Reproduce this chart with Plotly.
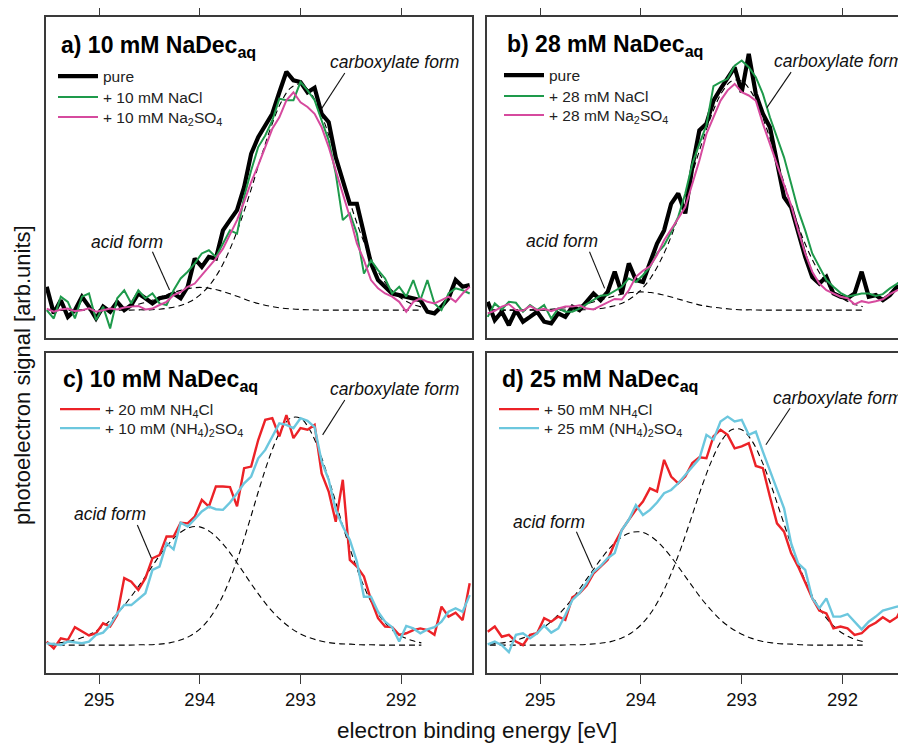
import plotly.graph_objects as go

# ---------------- data ----------------
energy = [295.52, 295.45, 295.38, 295.31, 295.24, 295.17, 295.10, 295.03, 294.96, 294.89,
          294.82, 294.75, 294.68, 294.61, 294.54, 294.47, 294.40, 294.33, 294.26, 294.19,
          294.12, 294.05, 293.98, 293.91, 293.84, 293.77, 293.70, 293.63, 293.56, 293.49,
          293.42, 293.35, 293.28, 293.21, 293.14, 293.07, 293.00, 292.93, 292.86, 292.79,
          292.72, 292.65, 292.58, 292.51, 292.44, 292.37, 292.30, 292.23, 292.16, 292.09,
          292.02, 291.95, 291.88, 291.81, 291.74, 291.67, 291.60, 291.53, 291.46, 291.39, 291.32]

fit_energy = [295.5, 295.4, 295.3, 295.2, 295.1, 295.0, 294.9, 294.8, 294.7, 294.6,
              294.5, 294.4, 294.3, 294.2, 294.1, 294.0, 293.9, 293.8, 293.7, 293.6,
              293.5, 293.4, 293.3, 293.2, 293.1, 293.0, 292.9, 292.8, 292.7, 292.6,
              292.5, 292.4, 292.3, 292.2, 292.1, 292.0, 291.9, 291.8]

# panel a) 10 mM NaDec
pure_a = [15.9, 7.6, 11.7, 6.5, 8.6, 12.8, 9.7, 6.0, 9.7, 8.1, 11.2, 8.6, 10.2, 13.8, 12.3, 10.7,
          12.3, 12.8, 13.8, 12.3, 15.9, 24.7, 22.1, 25.2, 24.7, 33.5, 36.7, 39.8, 47.0, 57.4,
          62.6, 66.3, 69.9, 76.6, 83.0, 80.3, 79.8, 76.6, 78.0, 69.9, 67.3, 56.3, 49.1, 41.8,
          41.8, 32.5, 23.2, 18.0, 15.9, 13.8, 13.3, 12.8, 12.3, 11.7, 8.1, 7.6, 9.7, 12.3,
          18.0, 15.9, 16.4]
nacl_a = [8.6, 6.0, 12.8, 11.2, 6.0, 12.8, 13.8, 5.5, 9.7, 2.9, 12.3, 14.8, 10.7, 14.8, 12.3,
          13.8, 10.7, 10.2, 14.8, 18.5, 20.6, 23.2, 26.3, 27.3, 25.2, 29.4, 33.5, 32.5, 43.9,
          52.2, 59.5, 63.1, 67.8, 74.6, 74.1, 74.1, 79.8, 77.2, 74.1, 67.8, 61.6, 51.2, 36.7,
          38.8, 32.5, 20.0, 24.1, 21.1, 18.5, 13.8, 15.9, 12.8, 18.0, 11.7, 18.0, 10.7, 8.6,
          13.8, 15.4, 14.8, 13.8]
na2so4_a = [9.1, 8.1, 8.8, 9.1, 8.3, 8.6, 9.2, 8.1, 8.6, 9.1, 8.8, 9.4, 9.7, 9.9, 8.8, 9.1,
            10.2, 11.2, 13.3, 14.2, 15.9, 16.9, 19.5, 22.1, 24.7, 27.8, 32.0, 36.7, 42.4,
            48.6, 53.8, 59.5, 65.2, 68.8, 74.1, 76.6, 73.5, 72.0, 69.9, 65.7, 59.5, 52.2,
            45.0, 37.7, 29.4, 24.2, 18.0, 15.4, 13.8, 12.8, 11.2, 8.1, 11.2, 12.3, 11.2, 10.7,
            11.7, 12.8, 11.2, 13.8, 15.9]
acid_a = [8.6, 8.6, 8.6, 8.6, 8.7, 8.8, 9.0, 9.3, 9.8, 10.5, 11.4, 12.6, 13.7, 14.7, 15.4,
          15.7, 15.4, 14.7, 13.7, 12.6, 11.4, 10.5, 9.8, 9.3, 9.0, 8.8, 8.7, 8.6, 8.6, 8.6,
          8.6, 8.6, 8.6, 8.6, 8.6, 8.6, 8.6, 8.6]
carb_a = [8.6, 8.6, 8.6, 8.6, 8.6, 8.6, 8.6, 8.6, 8.6, 8.7, 8.7, 8.9, 9.3, 10.0, 11.2, 13.3,
          16.5, 21.2, 27.7, 35.8, 45.3, 55.5, 65.1, 73.0, 77.9, 79.2, 76.4, 70.2, 61.4, 51.4,
          41.4, 32.3, 24.8, 19.1, 15.0, 12.3, 10.6, 9.6]

# panel b) 28 mM NaDec
pure_b = [11.2, 5.5, 8.1, 3.9, 8.6, 5.0, 6.5, 8.1, 5.0, 4.5, 7.6, 6.5, 9.7, 8.6, 11.2, 13.8,
          11.7, 14.3, 20.6, 13.8, 23.2, 18.0, 17.4, 23.2, 29.4, 33.5, 41.8, 45.0, 38.8, 53.3,
          64.7, 66.8, 74.0, 77.7, 81.3, 84.4, 76.6, 88.6, 76.1, 69.9, 65.7, 55.3, 43.9, 40.7,
          32.5, 25.2, 18.9, 16.9, 19.0, 13.8, 12.8, 12.3, 13.8, 20.6, 12.8, 13.3, 11.7, 13.3,
          15.9, 14.8, 16.9]
nacl_b = [6.5, 10.7, 8.8, 11.2, 10.9, 8.1, 10.2, 8.6, 10.2, 6.0, 9.1, 8.1, 8.1, 9.1, 10.5,
          11.7, 13.1, 13.3, 14.6, 15.9, 18.5, 17.4, 19.5, 22.1, 26.3, 28.8, 33.0, 37.7, 45.0,
          54.3, 60.5, 66.3, 78.5, 79.8, 80.8, 84.9, 86.5, 84.4, 81.3, 76.1, 68.8, 62.6, 56.3,
          48.1, 39.8, 33.5, 26.3, 22.1, 18.0, 15.9, 14.0, 12.8, 13.3, 13.8, 13.8, 13.0, 13.6,
          15.4, 16.8, 18.5, 19.0]
na2so4_b = [7.6, 8.4, 9.7, 10.5, 8.6, 8.4, 9.9, 8.6, 9.0, 8.3, 9.1, 9.7, 9.7, 10.1, 9.1, 8.8,
            9.9, 10.9, 12.1, 11.9, 14.8, 19.0, 20.9, 22.3, 25.8, 30.4, 33.7, 37.2, 40.8,
            48.1, 55.3, 63.6, 68.8, 74.0, 77.2, 79.2, 76.6, 75.6, 74.0, 66.8, 60.5, 54.3,
            48.1, 41.3, 33.5, 26.3, 20.6, 16.9, 14.8, 13.8, 12.8, 12.3, 10.4, 11.4, 10.9,
            11.4, 12.0, 13.6, 14.8, 15.9, 16.4]
acid_b = [8.6, 8.6, 8.6, 8.6, 8.7, 8.7, 8.9, 9.2, 9.6, 10.1, 10.9, 11.8, 12.7, 13.5, 14.1,
          14.3, 14.1, 13.5, 12.7, 11.8, 10.9, 10.1, 9.6, 9.2, 8.9, 8.7, 8.7, 8.6, 8.6, 8.6,
          8.6, 8.6, 8.6, 8.6, 8.6, 8.6, 8.6, 8.6]
carb_b = [8.6, 8.6, 8.6, 8.6, 8.6, 8.6, 8.6, 8.6, 8.6, 8.7, 8.8, 9.1, 9.7, 10.6, 12.3, 14.9,
          18.8, 24.4, 31.6, 40.4, 50.3, 60.3, 69.4, 76.4, 80.1, 80.1, 76.4, 69.4, 60.3, 50.3,
          40.4, 31.6, 24.4, 18.8, 14.9, 12.3, 10.6, 9.7]

# panel c) 10 mM NaDec + ammonium salts
nh4cl_c = [9.8, 7.7, 10.8, 10.3, 14.3, 12.9, 11.7, 12.4, 15.5, 14.5, 18.1, 29.6, 28.5, 25.9,
           29.6, 35.8, 36.8, 42.6, 42.6, 46.9, 46.7, 48.8, 54.0, 51.9, 58.2, 58.2, 58.0, 52.0,
           63.9, 64.4, 72.7, 79.0, 79.5, 73.8, 80.5, 73.3, 76.4, 75.9, 77.4, 62.3, 56.6, 47.2,
           60.3, 35.3, 33.2, 30.1, 22.8, 17.1, 14.5, 14.3, 11.9, 12.4, 13.4, 13.9, 13.4, 11.9,
           20.7, 17.6, 18.8, 16.5, 28.0]
nh42so4_c = [9.3, 8.9, 8.7, 9.8, 9.5, 9.3, 9.8, 11.9, 12.6, 15.0, 18.6, 21.2, 21.2, 23.0, 24.9,
             32.2, 33.2, 40.5, 38.6, 46.9, 45.7, 48.0, 50.4, 51.9, 51.1, 50.9, 53.2, 56.1,
             59.2, 61.3, 67.0, 69.6, 73.8, 77.9, 77.4, 76.4, 79.5, 78.7, 76.7, 66.0, 60.3,
             50.9, 45.7, 41.5, 34.8, 23.8, 23.8, 19.1, 16.0, 14.3, 9.8, 14.7, 13.9, 12.4, 13.6,
             14.3, 16.0, 19.1, 20.2, 19.1, 24.3]
acid_c = [9.1, 9.4, 9.9, 10.7, 11.9, 13.7, 16.1, 19.2, 23.1, 27.4, 32.0, 36.6, 40.6, 43.7,
          45.4, 45.6, 44.1, 41.3, 37.5, 33.0, 28.3, 23.9, 19.9, 16.7, 14.1, 12.2, 10.9, 10.0,
          9.4, 9.1, 9.0, 8.8, 8.8, 8.7, 8.7, 8.7, 8.7, 8.7]
carb_c = [8.7, 8.7, 8.7, 8.7, 8.7, 8.7, 8.7, 8.7, 8.7, 8.8, 8.8, 9.0, 9.4, 10.2, 11.5, 13.7,
          17.2, 22.3, 29.3, 38.0, 48.0, 58.5, 68.0, 75.4, 79.5, 79.5, 75.4, 68.0, 58.5, 48.0,
          38.0, 29.3, 22.3, 17.2, 13.7, 11.5, 10.2, 9.4]

# panel d) 25 mM NaDec + ammonium salts
nh4cl_d = [12.9, 14.5, 11.3, 11.9, 9.8, 8.7, 11.9, 12.4, 17.1, 16.0, 17.6, 16.6, 23.6, 24.9,
           27.2, 31.1, 33.2, 35.3, 40.5, 44.6, 47.8, 50.9, 53.5, 57.6, 56.6, 66.5, 61.3, 59.2,
           61.3, 65.5, 67.3, 67.0, 73.8, 75.9, 74.3, 70.1, 70.7, 71.7, 64.6, 63.9, 55.0, 46.7,
           44.1, 37.4, 33.2, 28.0, 23.3, 19.5, 18.6, 13.9, 14.5, 13.9, 11.9, 12.4, 14.5, 15.7,
           17.4, 16.0, 17.4, 21.7, 22.3]
nh42so4_d = [8.9, 9.8, 8.7, 6.5, 11.9, 12.4, 10.8, 12.4, 14.8, 12.6, 13.9, 18.1, 22.8, 24.9,
             28.0, 31.6, 33.4, 35.8, 37.4, 44.6, 47.8, 52.4, 49.3, 50.9, 53.2, 56.1, 57.1,
             59.2, 61.8, 64.4, 66.9, 74.3, 72.8, 78.5, 80.0, 78.5, 79.0, 74.3, 75.3, 69.1,
             63.4, 57.6, 51.4, 40.5, 34.2, 32.2, 23.3, 20.2, 23.3, 17.6, 17.6, 18.4, 16.0,
             13.6, 16.0, 17.6, 19.5, 20.2, 20.7, 21.0, 21.2]
acid_d = [9.0, 9.3, 9.8, 10.6, 11.8, 13.5, 15.8, 18.8, 22.4, 26.6, 31.0, 35.4, 39.3, 42.2,
          43.8, 44.0, 42.6, 39.9, 36.2, 31.9, 27.5, 23.2, 19.5, 16.3, 13.9, 12.1, 10.8, 9.9,
          9.4, 9.1, 9.0, 8.8, 8.7, 8.7, 8.7, 8.7, 8.7, 8.7]
carb_d = [8.7, 8.7, 8.7, 8.7, 8.7, 8.7, 8.7, 8.7, 8.8, 8.8, 9.0, 9.3, 9.8, 10.8, 12.4, 15.0,
          18.8, 24.1, 31.0, 39.2, 48.4, 57.8, 66.1, 72.5, 75.9, 75.9, 72.5, 66.1, 57.8, 48.4,
          39.2, 31.0, 24.1, 18.8, 15.0, 12.4, 10.8, 9.8]

panel_titles = ["a) 10 mM NaDec", "b) 28 mM NaDec", "c) 10 mM NaDec", "d) 25 mM NaDec"]
tick_vals = [295, 294, 293, 292]
tick_text = ["295", "294", "293", "292"]

# ---------------- styling ----------------
VW, VH = 906, 743          # browser window
OFF = 8                    # default page margin of the html body
W, H = VW - OFF, VH - OFF  # figure size so that it ends at the window edge
FONT = "Liberation Sans, Arial, Helvetica, sans-serif"
C_PURE, C_NACL, C_NA2SO4 = "#000000", "#1e9a4b", "#d64a9e"
C_NH4CL, C_NH42SO4 = "#ec2227", "#6cc7de"
FRAME = "#3a3a3a"

def fx(p):
    return (p - OFF) / W

def fy(p):
    return 1 - (p - OFF) / H

# panel boxes in window pixels: (left, right, top, bottom)
boxes = {
    1: (45.7, 471.7, 17.3, 337.7),
    2: (486.7, 906.0, 17.3, 337.7),
    3: (45.7, 471.7, 352.5, 673.0),
    4: (486.7, 906.0, 352.5, 673.0),
}
xranges = {1: [295.53, 291.30], 2: [295.53, 291.37], 3: [295.53, 291.30], 4: [295.53, 291.37]}

fig = go.Figure()

def ax_names(k):
    return ("x" if k == 1 else f"x{k}"), ("y" if k == 1 else f"y{k}")

def add_fit(k, xs, ys):
    xa, ya = ax_names(k)
    fig.add_trace(go.Scatter(x=xs, y=ys, mode="lines",
                             line=dict(color="black", width=1.1, dash="6px,4px", shape="spline"),
                             xaxis=xa, yaxis=ya, showlegend=False, hoverinfo="skip"))

legend_rows = []  # (legend id, left px, row centre px)

def add_data(k, ys, name, color, width, lx, ly):
    xa, ya = ax_names(k)
    lid = "legend" if not legend_rows else f"legend{len(legend_rows) + 1}"
    legend_rows.append((lid, lx, ly))
    fig.add_trace(go.Scatter(x=energy, y=ys, mode="lines", name=name,
                             line=dict(color=color, width=width),
                             xaxis=xa, yaxis=ya, legend=lid))

# panel a
add_fit(1, fit_energy, acid_a)
add_fit(1, fit_energy, carb_a)
add_data(1, pure_a, "pure", C_PURE, 4.2, 53, 76)
add_data(1, nacl_a, "+ 10 mM NaCl", C_NACL, 2, 53, 97)
add_data(1, na2so4_a, "+ 10 mM Na<sub>2</sub>SO<sub>4</sub>", C_NA2SO4, 2, 53, 117)
# panel b
add_fit(2, fit_energy, acid_b)
add_fit(2, fit_energy, carb_b)
add_data(2, pure_b, "pure", C_PURE, 4.2, 499, 75)
add_data(2, nacl_b, "+ 28 mM NaCl", C_NACL, 2, 499, 96)
add_data(2, na2so4_b, "+ 28 mM Na<sub>2</sub>SO<sub>4</sub>", C_NA2SO4, 2, 499, 115)
# panel c
add_fit(3, fit_energy, acid_c)
add_fit(3, fit_energy, carb_c)
add_data(3, nh4cl_c, "+ 20 mM NH<sub>4</sub>Cl", C_NH4CL, 2.4, 55, 409)
add_data(3, nh42so4_c, "+ 10 mM (NH<sub>4</sub>)<sub>2</sub>SO<sub>4</sub>", C_NH42SO4, 2.4, 55, 428)
# panel d
add_fit(4, fit_energy, acid_d)
add_fit(4, fit_energy, carb_d)
add_data(4, nh4cl_d, "+ 50 mM NH<sub>4</sub>Cl", C_NH4CL, 2.4, 494, 409)
add_data(4, nh42so4_d, "+ 25 mM (NH<sub>4</sub>)<sub>2</sub>SO<sub>4</sub>", C_NH42SO4, 2.4, 494, 428)

layout = dict(width=W, height=H, margin=dict(l=0, r=0, t=0, b=0),
              paper_bgcolor="white", plot_bgcolor="white",
              font=dict(family=FONT, color="#111"), showlegend=True)

for k, (l, r, t, b) in boxes.items():
    xn = "xaxis" if k == 1 else f"xaxis{k}"
    yn = "yaxis" if k == 1 else f"yaxis{k}"
    xa, ya = ax_names(k)
    top = k in (1, 2)
    left = k in (1, 3)
    layout[xn] = dict(domain=[fx(l), min(1.0, fx(r))], range=xranges[k], anchor=ya,
                      side="top" if top else "bottom", showline=True, linecolor=FRAME, linewidth=1.6,
                      mirror=True, ticks="outside", ticklen=8 if top else 9, tickwidth=1.4, tickcolor=FRAME,
                      tickvals=tick_vals, ticktext=tick_text, showticklabels=not top,
                      tickfont=dict(size=18.5, family=FONT, color="#111"),
                      showgrid=False, zeroline=False)
    layout[yn] = dict(domain=[fy(b), fy(t)], range=[0, 100], anchor=xa,
                      showline=True, linecolor=FRAME, linewidth=1.6, mirror=left,
                      showticklabels=False, ticks="", showgrid=False, zeroline=False)

# one single-entry legend per row, so each row sits where the reference has it
for lid, lx, ly in legend_rows:
    layout[lid] = dict(x=fx(lx), y=fy(ly - 16.5), xanchor="left", yanchor="top",
                       bgcolor="rgba(0,0,0,0)", borderwidth=0, tracegroupgap=0,
                       itemwidth=40, font=dict(size=15.5, family=FONT, color="#222"))

annotations = []
shapes = []
title_pos = [(59, 46.5), (505, 45.5), (61, 380.5), (500, 380.5)]
for (tx, ty), title in zip(title_pos, panel_titles):
    annotations.append(dict(xref="paper", yref="paper", x=fx(tx), y=fy(ty), xanchor="left", yanchor="middle",
                            text=f"<b>{title}<sub>aq</sub></b>", showarrow=False,
                            font=dict(size=23, family=FONT, color="#000")))

# labels and leader lines (data coordinates per panel)
carb_label = {1: (292.07, 85.9), 2: (292.04, 86.3), 3: (292.07, 88.6), 4: (292.05, 85.8)}
carb_line = {1: (292.56, 82.6, 292.79, 71.5), 2: (292.51, 82.9, 292.75, 71.8),
             3: (292.56, 85.2, 292.78, 74.3), 4: (292.52, 82.6, 292.76, 71.2)}
acid_label = {1: (294.72, 29.9), 2: (294.78, 30.2), 3: (294.89, 49.6), 4: (294.91, 47.2)}
acid_line = {1: (294.47, 26.8, 294.30, 14.9), 2: (294.51, 26.8, 294.36, 15.4),
             3: (294.62, 46.2, 294.48, 35.8), 4: (294.64, 44.1, 294.48, 32.7)}
for k in range(1, 5):
    xr, yr = ax_names(k)
    for (lx, ly), txt in ((carb_label[k], "carboxylate form"), (acid_label[k], "acid form")):
        annotations.append(dict(xref=xr, yref=yr, x=lx, y=ly, text=f"<i>{txt}</i>", showarrow=False,
                                xanchor="center", yanchor="middle",
                                font=dict(size=17.5, family=FONT, color="#111")))
    for (x0, y0, x1, y1) in (carb_line[k], acid_line[k]):
        shapes.append(dict(type="line", xref=xr, yref=yr, x0=x0, y0=y0, x1=x1, y1=y1,
                           line=dict(color="#111", width=1.1)))

annotations.append(dict(xref="paper", yref="paper", x=fx(477), y=fy(730), text="electron binding energy [eV]",
                        showarrow=False, xanchor="center", yanchor="middle",
                        font=dict(size=22.5, family=FONT, color="#111")))
annotations.append(dict(xref="paper", yref="paper", x=fx(22), y=fy(375), text="photoelectron signal [arb.units]",
                        showarrow=False, xanchor="center", yanchor="middle", textangle=-90,
                        font=dict(size=22, family=FONT, color="#111")))

layout["annotations"] = annotations
layout["shapes"] = shapes
fig.update_layout(**layout)
fig.write_html("out.html")
